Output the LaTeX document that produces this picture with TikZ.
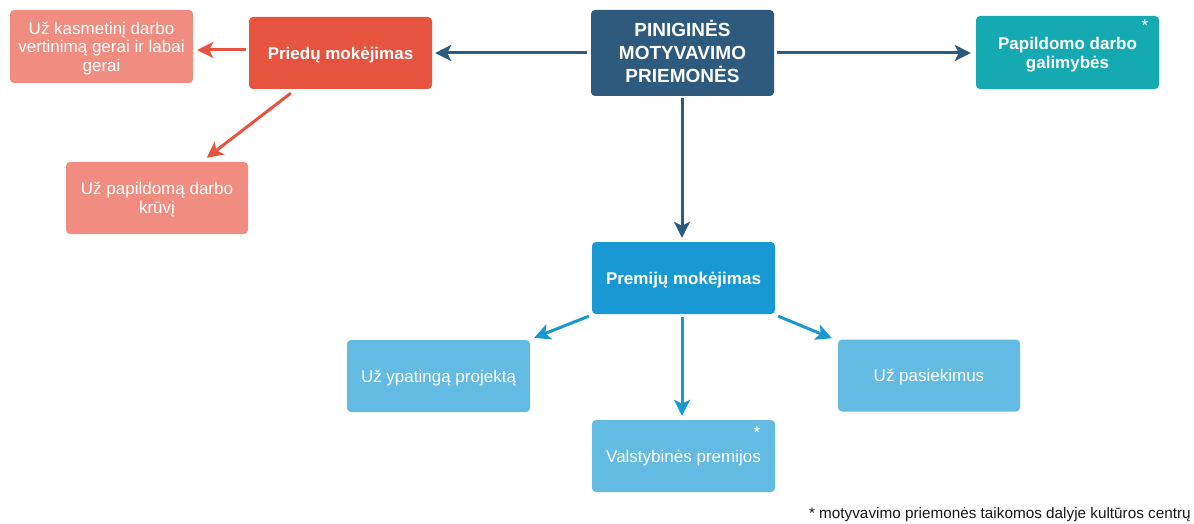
\documentclass[tikz,border=0pt]{standalone}
\usepackage{fontspec}
\setmainfont{Liberation Sans}
\usetikzlibrary{arrows.meta}

\definecolor{navy}{HTML}{2E5B7D}
\definecolor{redmain}{HTML}{E6533F}
\definecolor{redlight}{HTML}{F08D80}
\definecolor{tealbox}{HTML}{15A9B1}
\definecolor{bluemain}{HTML}{1999D3}
\definecolor{bluelight}{HTML}{63BAE2}

\tikzset{
  box/.style={rectangle, rounded corners=4pt, inner sep=0pt,
    minimum width=183pt, minimum height=72pt, align=center, text=white,
    text depth=-2pt, font=\fontsize{17}{19.2}\selectfont},
  boldbox/.style={box, font=\fontsize{17}{19.2}\selectfont\bfseries},
  link/.style={line width=3pt, -{Stealth[length=16pt,width=16pt,inset=4pt]}},
  star/.style={text=white, inner sep=0pt, font=\fontsize{17}{17}\selectfont},
}

\begin{document}
\begin{tikzpicture}[x=1pt, y=-1pt]
  \fill[white] (0,0) rectangle (1194,524);
  \useasboundingbox (0,0) rectangle (1194,524);

  % central node
  \node[boldbox, fill=navy, minimum height=86pt, text height=60pt, text depth=1pt,
        font=\fontsize{19}{22.8}\selectfont\bfseries] (cen) at (682.5,53)
        {PINIGINĖS\\MOTYVAVIMO\\PRIEMONĖS};

  % allowances branch
  \node[boldbox, fill=redmain] (pried) at (340.5,53) {Priedų mokėjimas};
  \node[box, fill=redlight, minimum height=73pt, text depth=-3pt,
        font=\fontsize{17}{18.5}\selectfont] (tl) at (101.5,46.5)
        {Už kasmetinį darbo\\vertinimą gerai ir labai\\gerai};
  \node[box, fill=redlight, minimum width=182pt] (kruv) at (157,198)
        {Už papildomą darbo\\krūvį};

  % extra work
  \node[boldbox, fill=tealbox, minimum height=73pt] (pap) at (1067.5,52.5)
        {Papildomo darbo\\galimybės};
  \node[star] (pstar) at (1145,26) {*};

  % bonuses branch
  \node[boldbox, fill=bluemain] (prem) at (683.5,278) {Premijų mokėjimas};
  \node[box, fill=bluelight] (ypat) at (438.5,376) {Už ypatingą projektą};
  \node[box, fill=bluelight, minimum width=182pt] (pasi) at (929,375.5) {Už pasiekimus};
  \node[box, fill=bluelight] (valst) at (683.5,456) {Valstybinės premijos};
  \node[star] (vstar) at (757,433) {*};

  % footnote
  \node[anchor=base east, inner sep=0pt, text=black!90,
        font=\fontsize{15.3}{16}\selectfont] (note) at (1191,518)
        {* motyvavimo priemonės taikomos dalyje kultūros centrų};

  % connectors from the central node
  \draw[link, navy, shorten <=4pt, shorten >=3pt] (cen.west) -- (pried.east);
  \draw[link, navy, shorten <=3pt, shorten >=5pt] (cen.east) -- (pap.west |- cen.east);
  \draw[link, navy, shorten <=2pt, shorten >=4pt] ([xshift=-0.5pt]cen.south) -- ([xshift=-1.5pt]prem.north);

  % allowance connectors
  \draw[link, redmain, shorten <=3pt, shorten >=4pt]
        ([yshift=3pt]pried.west) -- ([yshift=-3.5pt]tl.east);
  \draw[link, redmain]
        ([shift={(42pt,-4pt)}]pried.south west) -- ([shift={(141pt,4pt)}]kruv.north west);

  % bonus connectors
  \draw[link, bluemain]
        ([shift={(-3pt,-2pt)}]prem.south west) -- ([shift={(4pt,2pt)}]ypat.north east);
  \draw[link, bluemain]
        ([shift={(3pt,-2pt)}]prem.south east) -- ([shift={(-6pt,1pt)}]pasi.north west);
  \draw[link, bluemain, shorten <=3pt, shorten >=4pt]
        ([xshift=-1.5pt]prem.south) -- ([xshift=-1.5pt]valst.north);
\end{tikzpicture}
\end{document}
